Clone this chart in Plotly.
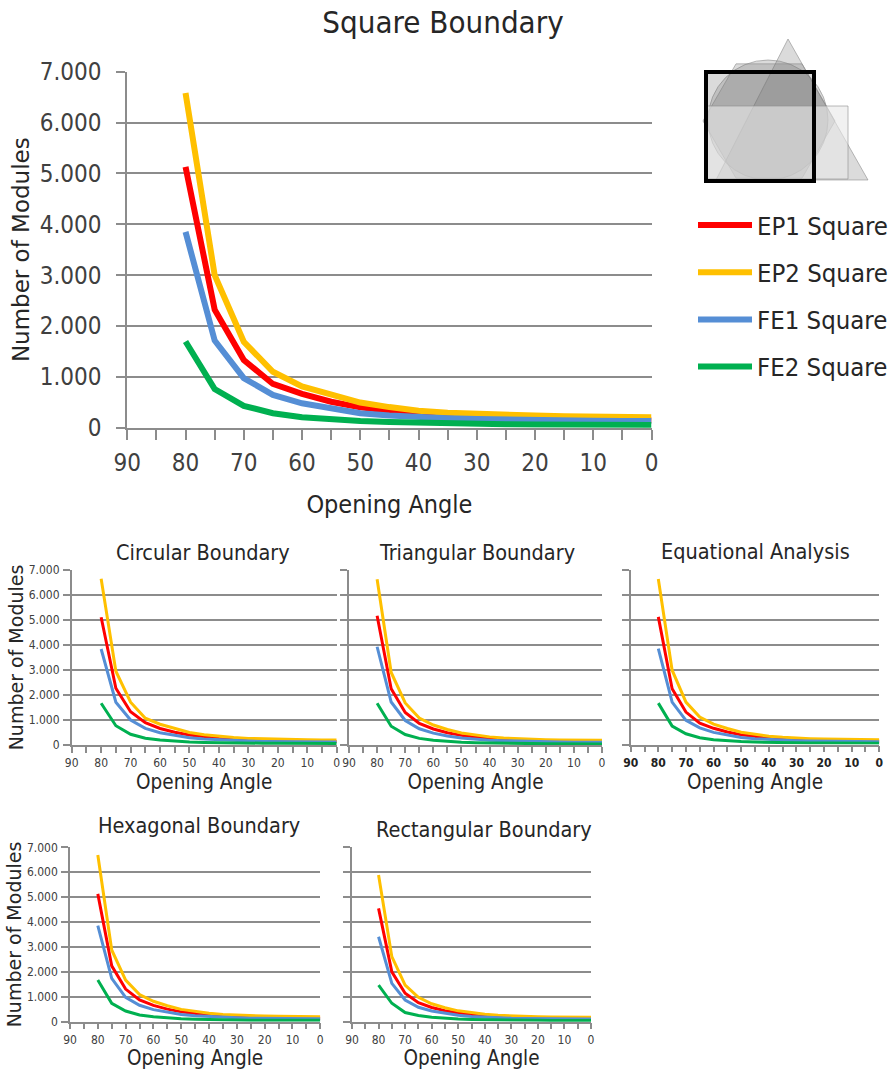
import plotly.graph_objects as go
import math

W, H = 893, 1070

# ---------------- data ----------------
angles = [80, 75, 70, 65, 60, 55, 50, 45, 40, 35, 30, 25, 20, 15, 10, 5, 0]
x_tick_vals = [0, 5, 10, 15, 20, 25, 30, 35, 40, 45, 50, 55, 60, 65, 70, 75, 80, 85, 90]
x_tick_text = ["0", "", "10", "", "20", "", "30", "", "40", "", "50", "", "60", "", "70", "", "80", "", "90"]
y_tick_vals = [0, 1000, 2000, 3000, 4000, 5000, 6000, 7000]

series_names = ["EP1", "EP2", "FE1", "FE2"]
series_colors = ["#ff0000", "#ffc000", "#558ed5", "#00b050"]

chart_titles = ["Square Boundary", "Circular Boundary", "Triangular Boundary",
                "Equational Analysis", "Hexagonal Boundary", "Rectangular Boundary"]

sq_ep1 = [5130, 2320, 1330, 860, 665, 510, 400, 320, 265, 225, 200, 180, 165, 155, 150, 145, 145]
sq_ep2 = [6580, 3000, 1690, 1100, 810, 645, 495, 405, 335, 295, 270, 255, 240, 225, 215, 205, 205]
sq_fe1 = [3850, 1715, 975, 645, 480, 370, 285, 240, 205, 185, 170, 155, 145, 140, 135, 130, 130]
sq_fe2 = [1695, 760, 430, 285, 205, 160, 130, 110, 95, 85, 80, 70, 65, 60, 55, 55, 55]

cir_ep1 = [5110, 2270, 1330, 890, 660, 510, 400, 320, 265, 225, 200, 180, 165, 155, 150, 145, 145]
cir_ep2 = [6650, 2950, 1710, 1070, 830, 650, 500, 410, 345, 300, 265, 245, 230, 220, 210, 205, 200]
cir_fe1 = [3840, 1710, 1000, 665, 490, 375, 290, 240, 205, 180, 160, 145, 135, 130, 125, 120, 120]
cir_fe2 = [1670, 770, 430, 270, 200, 155, 125, 105, 90, 80, 75, 70, 68, 66, 65, 65, 65]

tri_ep1 = [5170, 2250, 1300, 860, 640, 490, 385, 305, 250, 210, 185, 165, 150, 140, 135, 130, 130]
tri_ep2 = [6630, 2900, 1680, 1080, 800, 620, 480, 390, 325, 280, 250, 230, 215, 205, 195, 190, 190]
tri_fe1 = [3930, 1720, 980, 650, 475, 360, 280, 230, 195, 170, 150, 135, 125, 120, 115, 110, 110]
tri_fe2 = [1670, 750, 420, 265, 190, 145, 115, 95, 80, 70, 62, 57, 53, 50, 48, 46, 45]

eq_ep1 = [5120, 2240, 1300, 860, 650, 500, 395, 315, 260, 220, 195, 175, 160, 150, 145, 140, 140]
eq_ep2 = [6640, 2980, 1700, 1100, 820, 640, 495, 400, 335, 290, 255, 235, 220, 205, 195, 190, 188]
eq_fe1 = [3850, 1700, 965, 670, 485, 370, 285, 235, 200, 175, 155, 140, 130, 125, 120, 115, 115]
eq_fe2 = [1660, 740, 430, 270, 195, 150, 120, 100, 85, 75, 68, 62, 58, 56, 55, 54, 54]

hex_ep1 = [5130, 2240, 1310, 870, 655, 505, 395, 315, 260, 220, 195, 175, 160, 150, 145, 140, 140]
hex_ep2 = [6690, 2880, 1670, 1090, 820, 640, 495, 400, 335, 290, 260, 240, 225, 215, 205, 200, 200]
hex_fe1 = [3860, 1740, 980, 660, 485, 370, 285, 235, 200, 175, 155, 140, 130, 125, 120, 115, 115]
hex_fe2 = [1670, 740, 430, 270, 195, 150, 120, 100, 85, 75, 68, 62, 58, 56, 55, 54, 54]

rec_ep1 = [4550, 2000, 1140, 760, 570, 440, 345, 275, 225, 190, 170, 155, 145, 135, 130, 125, 125]
rec_ep2 = [5890, 2610, 1470, 980, 720, 560, 435, 350, 295, 255, 230, 215, 200, 190, 185, 180, 180]
rec_fe1 = [3410, 1540, 870, 580, 430, 330, 255, 210, 180, 155, 140, 130, 120, 115, 110, 105, 105]
rec_fe2 = [1470, 740, 370, 250, 180, 140, 110, 92, 80, 70, 63, 58, 54, 52, 50, 50, 50]

chart_series = [
    [sq_ep1, sq_ep2, sq_fe1, sq_fe2],
    [cir_ep1, cir_ep2, cir_fe1, cir_fe2],
    [tri_ep1, tri_ep2, tri_fe1, tri_fe2],
    [eq_ep1, eq_ep2, eq_fe1, eq_fe2],
    [hex_ep1, hex_ep2, hex_fe1, hex_fe2],
    [rec_ep1, rec_ep2, rec_fe1, rec_fe2],
]

# ---------------- layout helpers ----------------
FONT = "DejaVu Sans Condensed"
WIDE_FONT = "DejaVu Sans"
GRID = "#8c8c8c"
TEXT = "#262626"


def pxx(p):
    return p / W


def pxy(p):
    return 1 - p / H


# plot-area pixel boxes: (left, right, top, bottom)
panels = [
    (127.3, 651.5, 71.7, 427.7),
    (71.7, 336.7, 570.0, 745.0),
    (349.0, 602.0, 570.0, 745.0),
    (630.7, 879.3, 570.0, 744.5),
    (70.0, 320.3, 847.3, 1021.7),
    (352.0, 591.0, 847.3, 1021.7),
]

fig = go.Figure()

for ci, series in enumerate(chart_series):
    main = ci == 0
    ax = "" if ci == 0 else str(ci + 1)
    for si, vals in enumerate(series):
        fig.add_trace(go.Scatter(
            x=angles, y=vals, mode="lines",
            name=f"{series_names[si]} Square",
            legendgroup=series_names[si],
            showlegend=main,
            line=dict(color=series_colors[si], width=6 if main else 3),
            xaxis="x" + ax, yaxis="y" + ax,
            hoverinfo="skip",
        ))

layout = dict(
    width=W, height=H, autosize=False,
    margin=dict(l=0, r=0, t=0, b=0),
    paper_bgcolor="white", plot_bgcolor="white",
    template="none",
    separators=",.",
    font=dict(family=FONT, color=TEXT),
    showlegend=True,
    legend=dict(
        x=pxx(693), y=pxy(202), xanchor="left", yanchor="top",
        font=dict(size=25.5, family=FONT, color=TEXT),
        bgcolor="rgba(0,0,0,0)", itemwidth=54,
        tracegroupgap=11, traceorder="grouped",
    ),
    title=dict(text=chart_titles[0], x=pxx(443), y=pxy(22), xanchor="center",
               yanchor="middle", xref="paper", yref="paper",
               font=dict(size=31, family=FONT, color=TEXT)),
)

for ci, (l, r, t, b) in enumerate(panels):
    main = ci == 0
    ax = "" if ci == 0 else str(ci + 1)
    show_y_labels = ci in (0, 1, 4)
    xa = dict(
        domain=[pxx(l), pxx(r)], range=[90, 0], anchor="y" + ax,
        tickmode="array", tickvals=x_tick_vals, ticktext=x_tick_text,
        ticks="outside", ticklen=10 if main else 6, tickwidth=2 if main else 1.5,
        tickcolor=GRID, showline=True, linecolor=GRID, linewidth=2 if main else 1.5,
        showgrid=False, zeroline=False,
        tickfont=dict(size=24 if main else 12, family=FONT,
                      color="#222" if ci == 3 else "#404040",
                      weight="bold" if ci == 3 else "normal"),
        ticklabelstandoff=2 if main else 0,
        title=dict(text="Opening Angle", font=dict(size=25 if main else 20.5, family=FONT, color=TEXT),
                   standoff=20 if main else 2),
        fixedrange=True,
    )
    ya = dict(
        domain=[pxy(b), pxy(t)], range=[0, 7000], anchor="x" + ax,
        tickmode="array", tickvals=y_tick_vals, tickformat=",d",
        showticklabels=show_y_labels,
        ticks="outside", ticklen=9 if main else 7, tickwidth=2 if main else 1.5,
        tickcolor=GRID, showline=True, linecolor=GRID, linewidth=2 if main else 1.5,
        showgrid=True, gridcolor=GRID, gridwidth=2 if main else 1.5, zeroline=False,
        tickfont=dict(size=24 if main else 12, family=FONT, color="#404040"),
        ticklabelstandoff=10 if main else 1,
        fixedrange=True,
    )
    if ci in (0, 1, 4):
        ya["title"] = dict(text="Number of Modules",
                           font=dict(size=23 if main else 19, family=WIDE_FONT, color=TEXT),
                           standoff=4 if main else 0)
    layout["xaxis" + ax] = xa
    layout["yaxis" + ax] = ya

# small chart titles as annotations
small_title_pos = [None, (203, 552), (477, 552), (755, 551), (199, 825), (484, 829)]
annotations = []
for ci in range(1, 6):
    cx, cy = small_title_pos[ci]
    annotations.append(dict(text=chart_titles[ci], x=pxx(cx), y=pxy(cy), xref="paper", yref="paper",
                            xanchor="center", yanchor="middle", showarrow=False,
                            font=dict(size=21.5, family=FONT, color=TEXT)))
layout["annotations"] = annotations


# boundary-overlay icon (decorative)
def path(points):
    return "M " + " L ".join(f"{pxx(x):.5f},{pxy(y):.5f}" for x, y in points) + " Z"


hexc, hexr = (769, 121), 66
hex_pts = [(hexc[0] + hexr * math.cos(math.radians(a)), hexc[1] + hexr * math.sin(math.radians(a)))
           for a in range(0, 360, 60)]
shade = "rgba(110,110,110,0.25)"
edge = "rgba(140,140,140,0.6)"
shapes = [
    dict(type="path", path=path([(788, 39), (868, 180), (716, 180)]), xref="paper", yref="paper",
         fillcolor=shade, line=dict(color=edge, width=1)),
    dict(type="circle", x0=pxx(708), x1=pxx(828), y0=pxy(180), y1=pxy(60), xref="paper", yref="paper",
         fillcolor=shade, line=dict(color=edge, width=1)),
    dict(type="path", path=path(hex_pts), xref="paper", yref="paper",
         fillcolor=shade, line=dict(color=edge, width=1)),
    dict(type="rect", x0=pxx(706), x1=pxx(814), y0=pxy(181), y1=pxy(72), xref="paper", yref="paper",
         fillcolor=shade, line=dict(width=0)),
    dict(type="rect", x0=pxx(706), x1=pxx(848), y0=pxy(179), y1=pxy(106), xref="paper", yref="paper",
         fillcolor="rgba(232,232,232,0.6)", line=dict(color=edge, width=1)),
    dict(type="rect", x0=pxx(706), x1=pxx(814), y0=pxy(181), y1=pxy(72), xref="paper", yref="paper",
         fillcolor="rgba(0,0,0,0)", line=dict(color="black", width=4)),
]
layout["shapes"] = shapes

fig.update_layout(**layout)
fig.write_html("out.html")
